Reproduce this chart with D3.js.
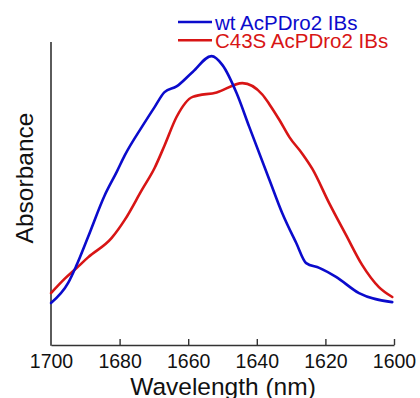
<!DOCTYPE html>
<html>
<head>
<meta charset="utf-8">
<script src="https://cdn.jsdelivr.net/npm/d3@7"></script>
<style>
  html, body { margin: 0; padding: 0; background: #fff; }
  svg { display: block; font-family: "Liberation Sans", Arial, sans-serif; }
</style>
</head>
<body>
<svg id="chart" width="420" height="398"></svg>
<script>
// Amide I band spectra (arbitrary absorbance units)
const wtWavelength = [1700, 1695, 1692.7, 1689.2, 1684.3, 1680.8, 1678.5, 1673.5, 1669.8, 1666.9,
  1663.4, 1658.7, 1653.2, 1650, 1645.9, 1642.2, 1636.3, 1632.6, 1628.5, 1625.6, 1621.8, 1616.9, 1610.2, 1600.5];
const wtAbsorbance = [0.14, 0.207, 0.262, 0.36, 0.5, 0.578, 0.632, 0.727, 0.793, 0.843,
  0.862, 0.91, 0.963, 0.933, 0.84, 0.727, 0.55, 0.44, 0.34, 0.273, 0.257, 0.227, 0.173, 0.143];

const mutWavelength = [1700, 1695.9, 1692.7, 1689.2, 1682.3, 1678.5, 1673.5, 1669.8, 1666.9, 1663.4,
  1658.7, 1651.7, 1644.2, 1638.4, 1636.3, 1633.4, 1630.5, 1626.7, 1623.8, 1618.9, 1614, 1609.3, 1604.4, 1600.5];
const mutAbsorbance = [0.173, 0.222, 0.255, 0.292, 0.357, 0.417, 0.517, 0.59, 0.665, 0.76,
  0.827, 0.842, 0.873, 0.835, 0.802, 0.75, 0.693, 0.637, 0.587, 0.473, 0.367, 0.267, 0.193, 0.16];

const xTicks = [1700, 1680, 1660, 1640, 1620, 1600];
const seriesNames = ["wt AcPDro2 IBs", "C43S AcPDro2 IBs"];
const seriesColors = ["#0b0bcc", "#d81515"];

const svg = d3.select("#chart");
const plotLeft = 51, plotRight = 394, plotTop = 42, plotBottom = 345;

const x = d3.scaleLinear().domain([1700, 1600]).range([plotLeft, plotRight]);
const y = d3.scaleLinear().domain([0, 1]).range([plotBottom, 45]);

// x axis with inward ticks
const xAxis = d3.axisBottom(x).tickValues(xTicks).tickSizeInner(-6).tickSizeOuter(0).tickPadding(9)
  .tickFormat(d3.format("d"));
const gx = svg.append("g").attr("transform", `translate(0,${plotBottom})`).call(xAxis);
gx.select(".domain").attr("stroke", "#333").attr("stroke-width", 1.6);
gx.selectAll(".tick line").attr("stroke", "#333").attr("stroke-width", 1.4);
gx.selectAll(".tick text").attr("font-size", 19.5).attr("fill", "#111")
  .attr("font-family", "Liberation Sans, Arial, sans-serif");
gx.selectAll(".tick").filter(d => d === 1700).select("line").remove();

// y axis: plain line, no ticks
svg.append("line").attr("x1", plotLeft).attr("x2", plotLeft).attr("y1", plotTop).attr("y2", plotBottom + 0.8)
  .attr("stroke", "#333").attr("stroke-width", 1.6);

// axis titles
svg.append("text").attr("x", (plotLeft + plotRight) / 2 + 0.5).attr("y", 395)
  .attr("text-anchor", "middle").attr("font-size", 24.5).attr("fill", "#111")
  .text("Wavelength (nm)");
svg.append("text").attr("transform", "translate(33,178) rotate(-90)")
  .attr("text-anchor", "middle").attr("font-size", 24.5).attr("fill", "#111")
  .text("Absorbance");

// spectra
const line = d3.line().x(d => x(d[0])).y(d => y(d[1])).curve(d3.curveMonotoneX);
const series = [
  d3.zip(wtWavelength, wtAbsorbance),
  d3.zip(mutWavelength, mutAbsorbance)
];
// draw the mutant first so the wt trace sits on top
[1, 0].forEach(i => {
  svg.append("path").datum(series[i]).attr("d", line)
    .attr("fill", "none").attr("stroke", seriesColors[i]).attr("stroke-width", 2.6)
    .attr("stroke-linejoin", "round").attr("stroke-linecap", "round");
});

// legend
const legend = svg.append("g");
seriesNames.forEach((name, i) => {
  const ly = 22 + i * 18.3;
  legend.append("line").attr("x1", 178).attr("x2", 212).attr("y1", ly).attr("y2", ly)
    .attr("stroke", seriesColors[i]).attr("stroke-width", 2.6);
  legend.append("text").attr("x", 215).attr("y", ly + 7.5).attr("font-size", 20.5)
    .attr("fill", seriesColors[i]).text(name);
});
</script>
</body>
</html>
